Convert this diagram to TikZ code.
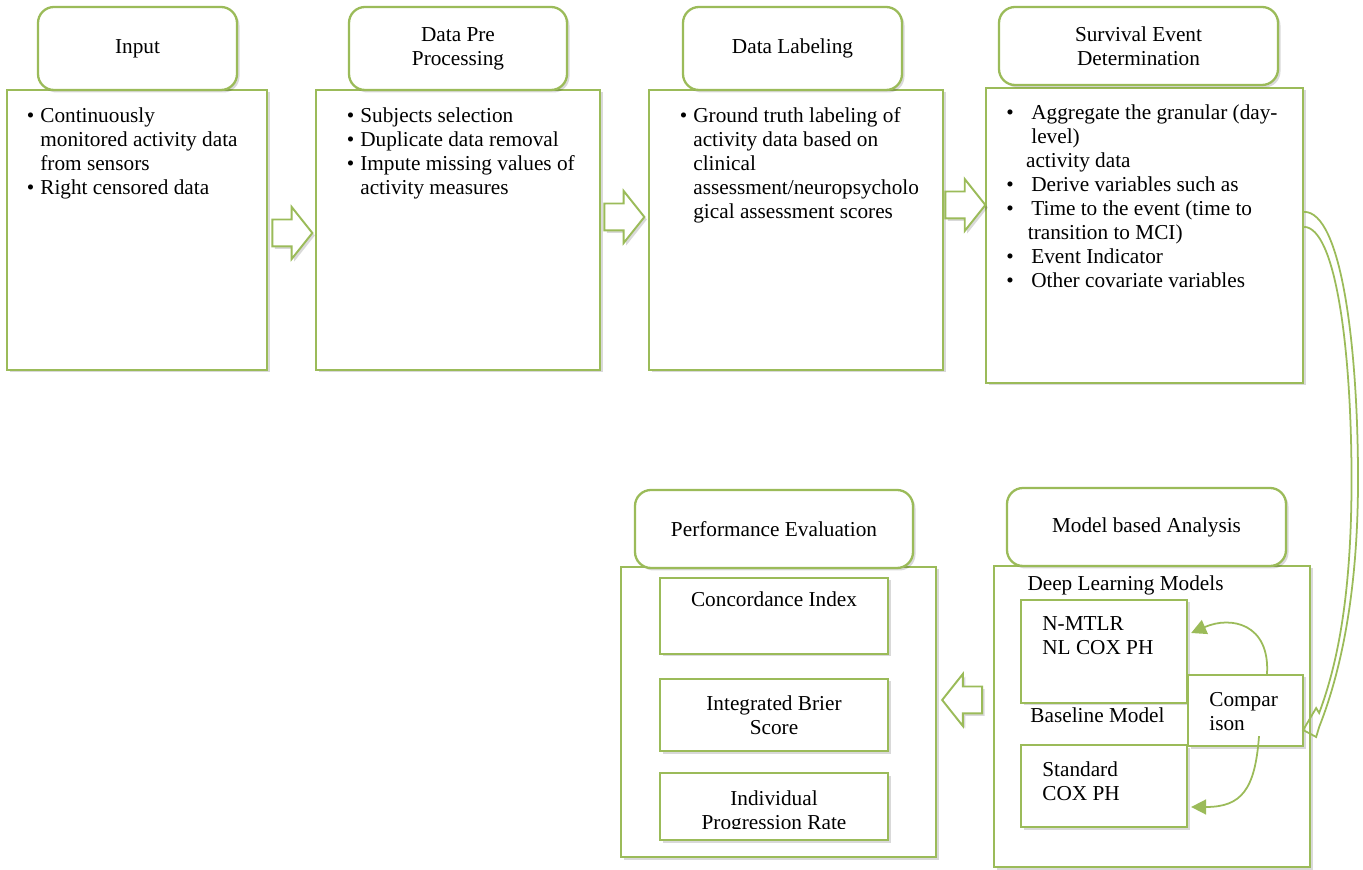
\documentclass[tikz,border=0pt]{standalone}
\usepackage{fontspec}
\setmainfont{Liberation Serif}
\usetikzlibrary{shapes.arrows, shadows, arrows.meta, calc, positioning}
\definecolor{stepgreen}{HTML}{9BBB59}
\newcommand{\txtsize}{\fontsize{12.1}{13.7}\selectfont}
\newcommand{\bul}{\llap{\textbullet\hspace{3.5pt}}}
\newcommand{\bulw}{\llap{\textbullet\hspace{10pt}}}
\tikzset{
  % ombra leggera
  softshadow/.style={drop shadow={shadow xshift=0.05cm, shadow yshift=-0.05cm,
    fill=black, opacity=0.15}},
  % intestazione di una fase
  phasehead/.style={draw=stepgreen, line width=1.3pt, rounded corners=0.32cm,
    fill=white, align=center, font=\txtsize, softshadow},
  % corpo di una fase
  phasebody/.style={draw=stepgreen, line width=1.3pt, fill=white, softshadow},
  % riquadro interno (metriche, modelli)
  metricbox/.style={draw=stepgreen, line width=1.3pt, fill=white, align=center,
    font=\txtsize, softshadow},
  % testo
  bodytext/.style={inner sep=0pt, font=\txtsize},
  % freccia a blocco tra le fasi
  blockarrow/.style={single arrow, draw=stepgreen, line width=1.1pt, fill=white,
    minimum height=0.8cm, inner xsep=0pt, inner ysep=0.25cm,
    single arrow head extend=0.25cm, single arrow tip angle=103, softshadow},
  % frecce curve
  loopflow/.style={draw=stepgreen, line width=1pt, -{Triangle[length=0.3cm, width=0.3cm]}},
  dblflow/.style={draw=stepgreen, line width=1pt, line join=miter},
}

\begin{document}
\begin{tikzpicture}
  \path[use as bounding box, fill=white] (0,0) rectangle (27.26,17.38);
  % fasi in alto
  \node[phasebody, minimum width=5.2cm, minimum height=5.6cm] (inbody) at (2.74,12.78) {};
  \node[phasehead, minimum width=3.98cm, minimum height=1.66cm] (inhead) at (2.75,16.41) {Input};
  \node[phasebody, minimum width=5.68cm, minimum height=5.6cm] (ppbody) at (9.16,12.78) {};
  \node[phasehead, minimum width=4.36cm, minimum height=1.66cm] (pphead) at (9.16,16.41) {Data Pre\\Processing};
  \node[phasebody, minimum width=5.88cm, minimum height=5.6cm] (lbbody) at (15.92,12.78) {};
  \node[phasehead, minimum width=4.38cm, minimum height=1.66cm] (lbhead) at (15.85,16.41) {Data Labeling};
  \node[phasebody, minimum width=6.34cm, minimum height=5.9cm] (sedbody) at (22.89,12.67) {};
  \node[phasehead, minimum width=5.58cm, minimum height=1.56cm] (sedhead) at (22.77,16.46) {Survival Event\\Determination};
  \node[bodytext, anchor=north west, align=left] (intxt) at (0.8,15.24)
    {\bul Continuously\\monitored activity data\\from sensors\\\bul Right censored data};
  \node[bodytext, anchor=north west, align=left] (pptxt) at (7.2,15.24)
    {\bul Subjects selection\\\bul Duplicate data removal\\\bul Impute missing values of\\activity measures};
  \node[bodytext, anchor=north west, align=left] (lbtxt) at (13.86,15.24)
    {\bul Ground truth labeling of\\activity data based on\\clinical\\assessment/neuropsycholo\\gical assessment scores};
  \node[bodytext, anchor=north west, align=left] (sedtxt) at (20.62,15.3)
    {\bulw Aggregate the granular (day-\\level)\\\hspace*{-3pt}activity data\\\bulw Derive variables such as\\\bulw Time to the event (time to\\\hspace*{-2pt}transition to MCI)\\\bulw Event Indicator\\\bulw Other covariate variables};
  \node[blockarrow] (arr1) at (5.74,12.72) {};
  \node[blockarrow] (arr2) at (12.38,13.04) {};
  \node[blockarrow] (arr3) at (19.2,13.28) {};
  % fasi in basso
  \node[phasebody, minimum width=6.3cm, minimum height=5.8cm] (pebody) at (15.57,3.14) {};
  \node[phasehead, minimum width=5.56cm, minimum height=1.56cm] (pehead) at (15.48,6.8) {Performance Evaluation};
  \node[phasebody, minimum width=6.32cm, minimum height=6.02cm] (mabody) at (23.04,3.05) {};
  \node[phasehead, minimum width=5.58cm, minimum height=1.56cm] (mahead) at (22.93,6.84) {Model based Analysis};
  \node[metricbox, minimum width=4.56cm, minimum height=1.52cm] (cidx) at (15.48,5.06) {};
  \node[bodytext, anchor=north] (cidxtxt) at (15.48,5.56) {Concordance Index};
  \node[metricbox, minimum width=4.56cm, minimum height=1.44cm] (ibs) at (15.48,3.08) {Integrated Brier\\Score};
  \node[metricbox, minimum width=4.56cm, minimum height=1.34cm] (ipr) at (15.48,1.25) {};
  \begin{scope}
    \clip (ipr.north west) rectangle ($(ipr.south east)+(0,0.26)$);
    \node[bodytext, anchor=north, align=center] (iprtxt) at (15.48,1.57) {Individual\\Progression Rate};
  \end{scope}
  \node[blockarrow, shape border rotate=180] (arr4) at (19.35,3.38) {};
  \node[bodytext] (dlm) at (22.51,5.68) {Deep Learning Models};
  \node[metricbox, minimum width=3.32cm, minimum height=2.06cm] (nmtlr) at (22.08,4.35) {};
  \node[bodytext, anchor=north west, align=left] (nmtlrtxt) at (20.84,5.06) {N-MTLR\\NL COX PH};
  \node[bodytext] (blm) at (21.95,3.08) {Baseline Model};
  \node[metricbox, minimum width=3.32cm, minimum height=1.64cm] (stdcox) at (22.08,1.66) {};
  \node[bodytext, anchor=north west, align=left] (stdcoxtxt) at (20.84,2.16) {Standard\\COX PH};
  \node[metricbox, minimum width=2.3cm, minimum height=1.42cm] (cmp) at (24.91,3.17) {};
  \node[bodytext, anchor=north west, align=left] (cmptxt) at (24.18,3.54) {Compar\\ison};
  \draw[loopflow] ($(cmp.north)+(0.43,0)$) .. controls +(0.06,1.0) and +(0.8,0.35) .. ($(nmtlr.east)+(0.06,0.37)$);
  \draw[loopflow] ($(cmp.south)+(0.27,0.22)$) .. controls +(-0.08,-1.08) and +(1.0,0) .. ($(stdcox.east)+(0.06,-0.42)$);
  % freccia doppia curva
  \coordinate (dblout) at ($(sedbody.north east)+(0,-2.5)$);
  \coordinate (dblin) at ($(sedbody.north east)+(0,-2.8)$);
  \coordinate (dbltip) at ($(cmp.east)+(-0.02,-0.39)$);
  \draw[dblflow] (dblout) .. controls +(0.74,0) and (27.15,10.5) .. (27.16,7.9)
    .. controls (27.17,5.5) and (26.8,3.9) .. ($(dbltip)+(0.32,0.06)$)
    -- ++(-0.06,-0.2) -- (dbltip) -- ++(0.26,0.44) -- ++(0.06,-0.1)
    .. controls (26.75,4.1) and (27.04,5.5) .. (27.03,7.9)
    .. controls (27.02,10.5) and (26.7,12.82) .. (dblin);
\end{tikzpicture}
\end{document}
